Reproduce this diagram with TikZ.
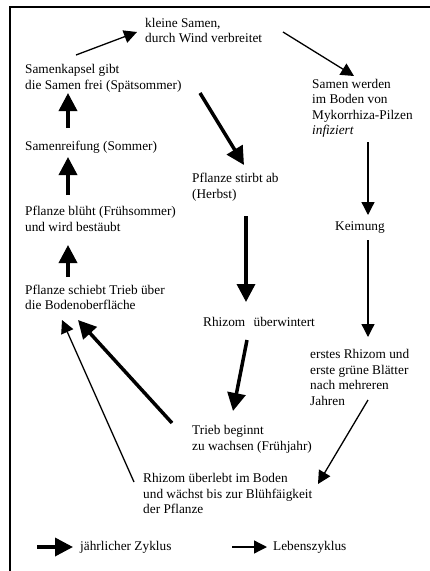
\documentclass[tikz,border=0pt]{standalone}
\usepackage{fontspec}
\setmainfont{Liberation Serif}
\usetikzlibrary{arrows.meta}
\begin{document}
\begin{tikzpicture}[x=1pt,y=-1pt,
  lbl/.style={anchor=west,inner sep=0pt,align=left,font=\fontsize{13.3}{15.5}\selectfont},
  annual/.style={line width=3.5pt,-{Triangle[length=18pt,width=18pt]}},
  life/.style={line width=1.3pt,-{Triangle[length=13pt,width=13pt]}},
  frameline/.style={line width=1.2pt}]
\useasboundingbox (0,0) rectangle (430,571);
% frame
\coordinate (fTL) at (10,7);
\coordinate (fTR) at (430,7);
\coordinate (fBL) at (10,571);
\coordinate (fTk) at (375,7);
\draw[frameline] (fBL) -- (fTL) -- (fTR);
\draw[line width=2pt] (fTk) -- (fTR);
% texts
\node[lbl] (seeds)   at (145,30.5) {kleine Samen,\\durch Wind verbreitet};
\node[lbl] (kapsel)  at (25,78.5) {Samenkapsel gibt\\die Samen frei (Spätsommer)};
\node[lbl] (reif)    at (25,147) {Samenreifung (Sommer)};
\node[lbl] (bluet)   at (25,219) {Pflanze blüht (Frühsommer)\\und wird bestäubt};
\node[lbl] (schiebt) at (25,297.5) {Pflanze schiebt Trieb über\\die Bodenoberfläche};
\node[lbl] (stirbt)  at (192,187) {Pflanze stirbt ab\\(Herbst)};
\node[lbl] (infiz)   at (312,108.5) {Samen werden\\im Boden von\\Mykorrhiza-Pilzen\\\textit{infiziert}};
\node[lbl] (keim)    at (335,228) {Keimung};
\node[lbl] (winter)  at (203,322) {Rhizom\hspace{5pt} überwintert};
\node[lbl] (erstes)  at (310,377.5) {erstes Rhizom und\\erste grüne Blätter\\nach mehreren\\Jahren};
\node[lbl] (trieb)   at (192,439.5) {Trieb beginnt\\zu wachsen (Frühjahr)};
\node[lbl] (ueberlebt) at (143,493.5) {Rhizom überlebt im Boden\\und wächst bis zur Blühfäigkeit\\der Pflanze};
\node[lbl] (legA)    at (80,547) {jährlicher Zyklus};
\node[lbl] (legB)    at (273,547) {Lebenszyklus};
% connector end points
\coordinate (kapsel-o) at (76,55);   \coordinate (seeds-i) at (137,32);
\coordinate (seeds-o) at (283,32);   \coordinate (infiz-i) at (354,76);
\coordinate (kapsel-o2) at (200,93); \coordinate (stirbt-i) at (244,165);
\coordinate (infiz-o) at (368,142);  \coordinate (keim-i) at (368,215);
\coordinate (stirbt-o) at (246,216); \coordinate (winter-i) at (246,302);
\coordinate (keim-o) at (368,240);   \coordinate (erstes-i) at (368,337);
\coordinate (winter-o) at (247,340); \coordinate (trieb-i) at (233,411);
\coordinate (erstes-o) at (368,400); \coordinate (ueberlebt-i) at (318,484);
\coordinate (trieb-o) at (172,423);  \coordinate (schiebt-i1) at (78,320);
\coordinate (ueberlebt-o) at (134,482); \coordinate (schiebt-i2) at (62,320);
\coordinate (reif-o) at (68,128);    \coordinate (kapsel-i) at (68,93);
\coordinate (bluet-o) at (68,195);   \coordinate (reif-i) at (68,157);
\coordinate (schiebt-o) at (68,277); \coordinate (bluet-i) at (68,245);
\coordinate (legA-s) at (37,547);    \coordinate (legA-e) at (73,547);
\coordinate (legB-s) at (232,547);   \coordinate (legB-e) at (267,547);
% annual cycle (thick)
\draw[annual] (reif-o) -- (kapsel-i);
\draw[annual] (bluet-o) -- (reif-i);
\draw[annual] (schiebt-o) -- (bluet-i);
\draw[annual] (kapsel-o2) -- (stirbt-i);
\draw[annual] (stirbt-o) -- (winter-i);
\draw[annual] (winter-o) -- (trieb-i);
\draw[annual] (trieb-o) -- (schiebt-i1);
\draw[annual] (legA-s) -- (legA-e);
% life cycle (thin)
\draw[life] (kapsel-o) -- (seeds-i);
\draw[life] (seeds-o) -- (infiz-i);
\draw[life] (infiz-o) -- (keim-i);
\draw[life] (keim-o) -- (erstes-i);
\draw[life] (erstes-o) -- (ueberlebt-i);
\draw[life] (ueberlebt-o) -- (schiebt-i2);
\draw[life] (legB-s) -- (legB-e);
\end{tikzpicture}
\end{document}
